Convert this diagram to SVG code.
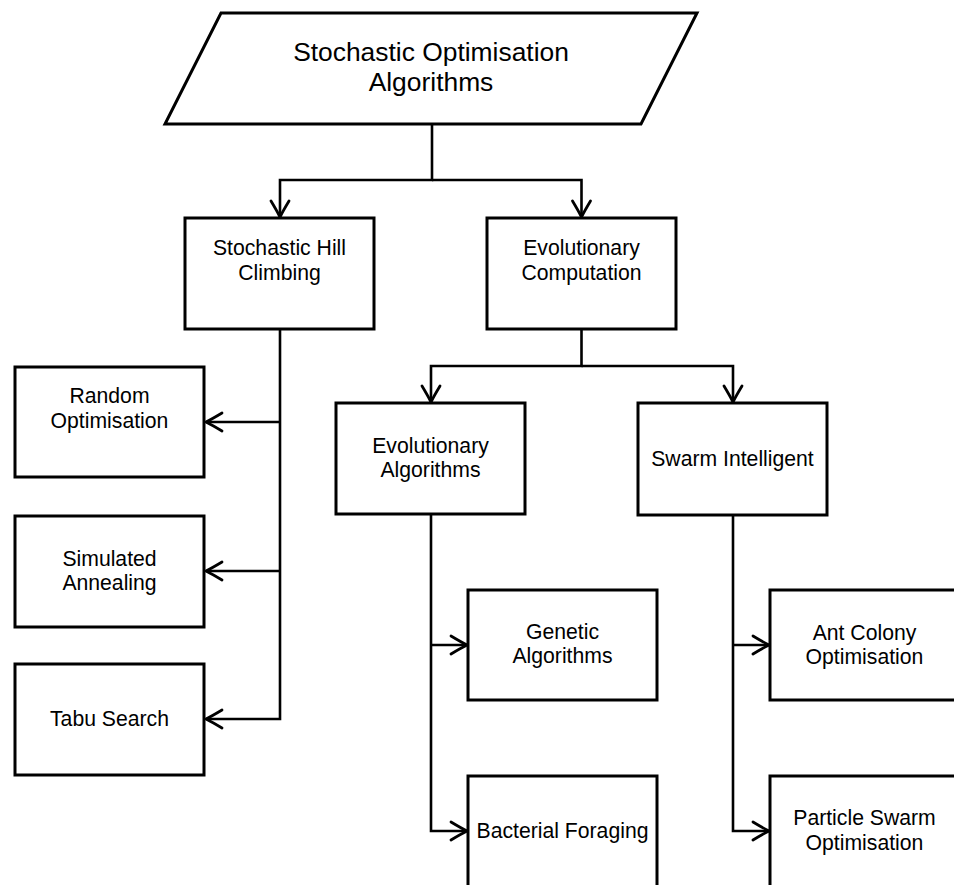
<svg xmlns="http://www.w3.org/2000/svg" width="954" height="885" viewBox="0 0 954 885">
  <style>
    .shape { fill: #ffffff; stroke: #000000; stroke-width: 3; stroke-linejoin: miter; }
    .label { font-family: "Liberation Sans", Arial, sans-serif; font-size: 21.2px; fill: #000000; text-anchor: middle; }
    .title { font-size: 26.4px; }
    .wire { fill: none; stroke: #000000; stroke-width: 2.6; stroke-linejoin: miter; }
    .tip { marker-end: url(#open-arrow); }
  </style>
  <defs>
    <marker id="open-arrow" markerUnits="userSpaceOnUse" markerWidth="24" markerHeight="24" viewBox="-20 -12 24 24" refX="0" refY="0" orient="auto" overflow="visible">
      <path d="M-16,-9 Q-6,-3 0,0 Q-6,3 -16,9" fill="none" stroke="#000000" stroke-width="2.8" stroke-linecap="round" stroke-linejoin="round"/>
    </marker>
  </defs>

  <rect width="954" height="885" fill="#ffffff"/>

  <!-- connectors -->
  <g id="connectors">
    <path class="wire tip" d="M432,125 V180 H280 V217"/>
    <path class="wire tip" d="M432,180 H581.5 V217"/>

    <path class="wire tip" d="M280,329 V719 H206"/>
    <path class="wire tip" d="M280,422 H206"/>
    <path class="wire tip" d="M280,571 H206"/>

    <path class="wire tip" d="M581.5,329 V366 H431 V402"/>
    <path class="wire tip" d="M581.5,366 H733 V402"/>

    <path class="wire tip" d="M431,514 V831 H467"/>
    <path class="wire tip" d="M431,645 H467"/>

    <path class="wire tip" d="M733,515 V831 H769"/>
    <path class="wire tip" d="M733,645 H769"/>
  </g>

  <!-- root -->
  <g id="stochastic-optimisation">
    <polygon class="shape" points="221,13 697,13 641,124 165,124"/>
    <text class="label title" x="431" y="61">Stochastic Optimisation</text>
    <text class="label title" x="431" y="91">Algorithms</text>
  </g>

  <g id="stochastic-hill-climbing">
    <rect class="shape" x="185" y="218" width="189" height="111"/>
    <text class="label" x="279.5" y="255">Stochastic Hill</text>
    <text class="label" x="279.5" y="280">Climbing</text>
  </g>

  <g id="evolutionary-computation">
    <rect class="shape" x="487" y="218" width="189" height="111"/>
    <text class="label" x="581.5" y="255">Evolutionary</text>
    <text class="label" x="581.5" y="280">Computation</text>
  </g>

  <g id="random-optimisation">
    <rect class="shape" x="15" y="367" width="189" height="110"/>
    <text class="label" x="109.5" y="403">Random</text>
    <text class="label" x="109.5" y="428">Optimisation</text>
  </g>

  <g id="simulated-annealing">
    <rect class="shape" x="15" y="516" width="189" height="111"/>
    <text class="label" x="109.5" y="566">Simulated</text>
    <text class="label" x="109.5" y="590">Annealing</text>
  </g>

  <g id="tabu-search">
    <rect class="shape" x="15" y="664" width="189" height="111"/>
    <text class="label" x="109.5" y="726">Tabu Search</text>
  </g>

  <g id="evolutionary-algorithms">
    <rect class="shape" x="336" y="403" width="189" height="111"/>
    <text class="label" x="430.5" y="453">Evolutionary</text>
    <text class="label" x="430.5" y="477">Algorithms</text>
  </g>

  <g id="swarm-intelligent">
    <rect class="shape" x="638" y="403" width="189" height="112"/>
    <text class="label" x="732.5" y="466">Swarm Intelligent</text>
  </g>

  <g id="genetic-algorithms">
    <rect class="shape" x="468" y="590" width="189" height="110"/>
    <text class="label" x="562.5" y="639">Genetic</text>
    <text class="label" x="562.5" y="663">Algorithms</text>
  </g>

  <g id="bacterial-foraging">
    <rect class="shape" x="468" y="776" width="189" height="111"/>
    <text class="label" x="562.5" y="838">Bacterial Foraging</text>
  </g>

  <g id="ant-colony-optimisation">
    <rect class="shape" x="770" y="590" width="189" height="110"/>
    <text class="label" x="864.5" y="640">Ant Colony</text>
    <text class="label" x="864.5" y="664">Optimisation</text>
  </g>

  <g id="particle-swarm-optimisation">
    <rect class="shape" x="770" y="776" width="189" height="111"/>
    <text class="label" x="864.5" y="825">Particle Swarm</text>
    <text class="label" x="864.5" y="850">Optimisation</text>
  </g>
</svg>
